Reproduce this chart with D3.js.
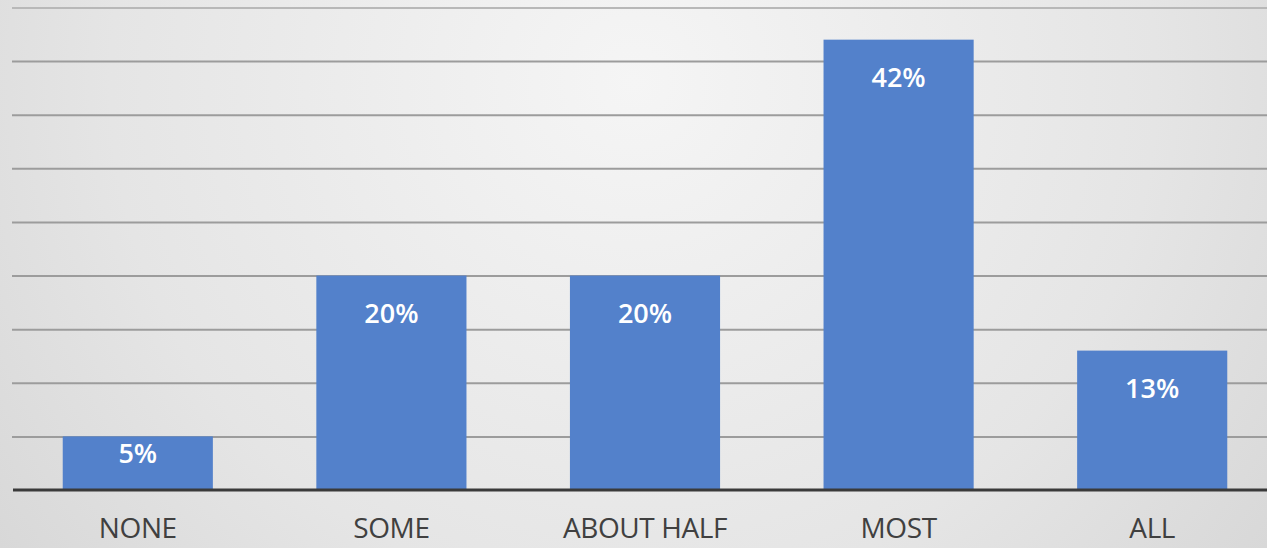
<!DOCTYPE html>
<html>
<head>
<meta charset="utf-8">
<script src="https://cdn.jsdelivr.net/npm/d3@7"></script>
<style>
  html, body { margin: 0; padding: 0; overflow: hidden; }
  svg { display: block; }
</style>
</head>
<body>
<script>
const categories = ["NONE", "SOME", "ABOUT HALF", "MOST", "ALL"];
const values = [5, 20, 20, 42, 13];
const gridTicks = [5, 10, 15, 20, 25, 30, 35, 40, 45];

const svgwidth = 1267;
const svgheight = 548;

const svg = d3.select("body").append("svg")
  .attr("width", svgwidth)
  .attr("height", svgheight);

// fondo con degradado radial
const defs = svg.append("defs");
const grad = defs.append("radialGradient")
  .attr("id", "bg")
  .attr("cx", "50%").attr("cy", "15%")
  .attr("r", "75%")
  .attr("gradientTransform", "translate(0.5,0.15) scale(1,2.3) translate(-0.5,-0.15)");
grad.append("stop").attr("offset", "0%").attr("stop-color", "#f5f5f5");
grad.append("stop").attr("offset", "55%").attr("stop-color", "#e5e5e5");
grad.append("stop").attr("offset", "100%").attr("stop-color", "#d0d0d0");

svg.append("rect")
  .attr("width", svgwidth)
  .attr("height", svgheight)
  .attr("fill", "url(#bg)");

// escalas
const xScale = d3.scaleBand()
  .domain(categories)
  .range([11, 1279])
  .paddingInner(0.408)
  .paddingOuter(0.204);

const yScale = d3.scaleLinear()
  .domain([0, 45])
  .range([490, 7.5]);

// lineas de cuadricula
const yAxis = d3.axisLeft(yScale)
  .tickValues(gridTicks)
  .tickSize(-(svgwidth - 12))
  .tickFormat("");

const grid = svg.append("g")
  .attr("transform", "translate(12,0)")
  .call(yAxis);
grid.select(".domain").remove();
grid.selectAll(".tick line")
  .attr("stroke", d => (d === 45 ? "#b8b8b8" : "#9c9c9c"))
  .attr("stroke-width", 2);

// barras
svg.selectAll("rect.bar")
  .data(values)
  .enter()
  .append("rect")
  .attr("class", "bar")
  .attr("x", (d, i) => xScale(categories[i]))
  .attr("y", d => yScale(d))
  .attr("width", xScale.bandwidth())
  .attr("height", d => yScale(0) - yScale(d))
  .attr("fill", "#5381cb");

// etiquetas de valor
svg.selectAll("text.val")
  .data(values)
  .enter()
  .append("text")
  .attr("class", "val")
  .attr("x", (d, i) => xScale(categories[i]) + xScale.bandwidth() / 2)
  .attr("y", d => (yScale(0) - yScale(d) < 80 ? yScale(d) + 17 : yScale(d) + 38))
  .attr("dy", "0.35em")
  .attr("text-anchor", "middle")
  .attr("fill", "#ffffff")
  .style("font-family", "'Open Sans', sans-serif")
  .style("font-size", "27px")
  .style("font-weight", "600")
  .text(d => d + "%");

// eje x
const xAxis = d3.axisBottom(xScale).tickSize(0).tickPadding(28);
const gx = svg.append("g")
  .attr("transform", "translate(0,490)")
  .call(xAxis);
gx.select(".domain").remove();
gx.selectAll("text")
  .attr("fill", "#404040")
  .style("font-family", "'Open Sans', sans-serif")
  .style("font-size", "28px")
  .style("letter-spacing", "-0.4px");

svg.append("line")
  .attr("x1", 13).attr("x2", svgwidth)
  .attr("y1", yScale(0)).attr("y2", yScale(0))
  .attr("stroke", "#3a3a3a")
  .attr("stroke-width", 3);
</script>
</body>
</html>
